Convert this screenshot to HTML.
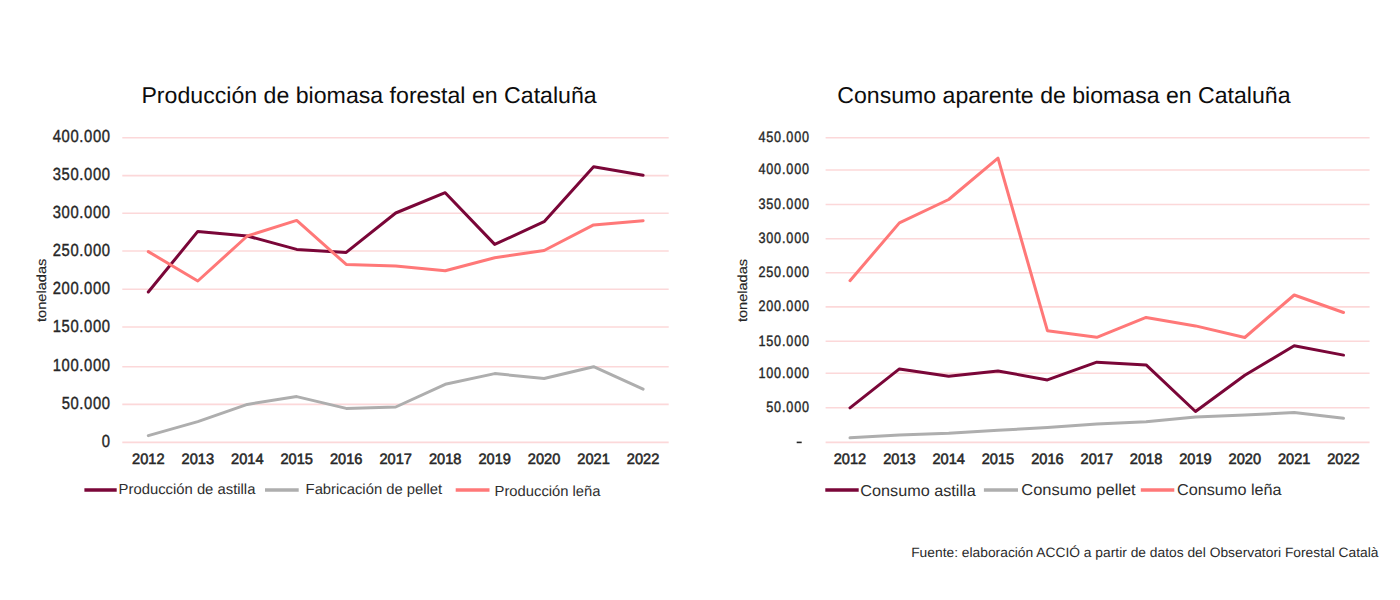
<!DOCTYPE html><html><head><meta charset="utf-8"><style>
html,body{margin:0;padding:0;background:#fff;width:1400px;height:600px;overflow:hidden}
svg{position:absolute;left:0;top:0;font-family:"Liberation Sans",sans-serif;text-rendering:geometricPrecision}
</style></head><body>
<svg width="1400" height="600" viewBox="0 0 1400 600">
<g transform="translate(0 102.8) scale(1 1.0) translate(0 -102.8)"><text x="141.4" y="102.8" font-size="22.8" fill="#0d0d0d" textLength="455.3" lengthAdjust="spacingAndGlyphs">Producción de biomasa forestal en Cataluña</text></g>
<g transform="translate(0 102.8) scale(1 1.0) translate(0 -102.8)"><text x="837.3" y="102.8" font-size="22.8" fill="#0d0d0d" textLength="453.2" lengthAdjust="spacingAndGlyphs">Consumo aparente de biomasa en Cataluña</text></g>
<line x1="122.3" x2="668.7" y1="137.7" y2="137.7" stroke="#fcd8d9" stroke-width="1.6"/>
<line x1="122.3" x2="668.7" y1="175.6" y2="175.6" stroke="#fcd8d9" stroke-width="1.6"/>
<line x1="122.3" x2="668.7" y1="213.3" y2="213.3" stroke="#fcd8d9" stroke-width="1.6"/>
<line x1="122.3" x2="668.7" y1="251.0" y2="251.0" stroke="#fcd8d9" stroke-width="1.6"/>
<line x1="122.3" x2="668.7" y1="289.3" y2="289.3" stroke="#fcd8d9" stroke-width="1.6"/>
<line x1="122.3" x2="668.7" y1="327.0" y2="327.0" stroke="#fcd8d9" stroke-width="1.6"/>
<line x1="122.3" x2="668.7" y1="366.7" y2="366.7" stroke="#fcd8d9" stroke-width="1.6"/>
<line x1="122.3" x2="668.7" y1="404.4" y2="404.4" stroke="#fcd8d9" stroke-width="1.6"/>
<line x1="122.3" x2="668.7" y1="442.4" y2="442.4" stroke="#fcd8d9" stroke-width="1.6"/>
<text x="131.70" y="142.30" font-size="17.6" fill="#262626" stroke="#262626" stroke-width="0.4" text-anchor="end" letter-spacing="0.75" transform="scale(0.84 1)">400.000</text>
<text x="131.70" y="180.20" font-size="17.6" fill="#262626" stroke="#262626" stroke-width="0.4" text-anchor="end" letter-spacing="0.75" transform="scale(0.84 1)">350.000</text>
<text x="131.70" y="217.90" font-size="17.6" fill="#262626" stroke="#262626" stroke-width="0.4" text-anchor="end" letter-spacing="0.75" transform="scale(0.84 1)">300.000</text>
<text x="131.70" y="255.60" font-size="17.6" fill="#262626" stroke="#262626" stroke-width="0.4" text-anchor="end" letter-spacing="0.75" transform="scale(0.84 1)">250.000</text>
<text x="131.70" y="293.90" font-size="17.6" fill="#262626" stroke="#262626" stroke-width="0.4" text-anchor="end" letter-spacing="0.75" transform="scale(0.84 1)">200.000</text>
<text x="131.70" y="331.60" font-size="17.6" fill="#262626" stroke="#262626" stroke-width="0.4" text-anchor="end" letter-spacing="0.75" transform="scale(0.84 1)">150.000</text>
<text x="131.70" y="371.30" font-size="17.6" fill="#262626" stroke="#262626" stroke-width="0.4" text-anchor="end" letter-spacing="0.75" transform="scale(0.84 1)">100.000</text>
<text x="131.70" y="409.00" font-size="17.6" fill="#262626" stroke="#262626" stroke-width="0.4" text-anchor="end" letter-spacing="0.75" transform="scale(0.84 1)">50.000</text>
<text x="131.70" y="447.00" font-size="17.6" fill="#262626" stroke="#262626" stroke-width="0.4" text-anchor="end" letter-spacing="0.75" transform="scale(0.84 1)">0</text>
<line x1="825.6" x2="1369.6" y1="137.7" y2="137.7" stroke="#fcd8d9" stroke-width="1.6"/>
<line x1="825.6" x2="1369.6" y1="170.0" y2="170.0" stroke="#fcd8d9" stroke-width="1.6"/>
<line x1="825.6" x2="1369.6" y1="204.5" y2="204.5" stroke="#fcd8d9" stroke-width="1.6"/>
<line x1="825.6" x2="1369.6" y1="238.7" y2="238.7" stroke="#fcd8d9" stroke-width="1.6"/>
<line x1="825.6" x2="1369.6" y1="272.7" y2="272.7" stroke="#fcd8d9" stroke-width="1.6"/>
<line x1="825.6" x2="1369.6" y1="306.9" y2="306.9" stroke="#fcd8d9" stroke-width="1.6"/>
<line x1="825.6" x2="1369.6" y1="341.3" y2="341.3" stroke="#fcd8d9" stroke-width="1.6"/>
<line x1="825.6" x2="1369.6" y1="373.3" y2="373.3" stroke="#fcd8d9" stroke-width="1.6"/>
<line x1="825.6" x2="1369.6" y1="407.8" y2="407.8" stroke="#fcd8d9" stroke-width="1.6"/>
<line x1="825.6" x2="1369.6" y1="442.4" y2="442.4" stroke="#fcd8d9" stroke-width="1.6"/>
<text x="964.10" y="141.97" font-size="15.0" fill="#262626" stroke="#262626" stroke-width="0.4" text-anchor="end" letter-spacing="1.0" transform="scale(0.84 1)">450.000</text>
<text x="964.10" y="174.27" font-size="15.0" fill="#262626" stroke="#262626" stroke-width="0.4" text-anchor="end" letter-spacing="1.0" transform="scale(0.84 1)">400.000</text>
<text x="964.10" y="208.77" font-size="15.0" fill="#262626" stroke="#262626" stroke-width="0.4" text-anchor="end" letter-spacing="1.0" transform="scale(0.84 1)">350.000</text>
<text x="964.10" y="242.97" font-size="15.0" fill="#262626" stroke="#262626" stroke-width="0.4" text-anchor="end" letter-spacing="1.0" transform="scale(0.84 1)">300.000</text>
<text x="964.10" y="276.97" font-size="15.0" fill="#262626" stroke="#262626" stroke-width="0.4" text-anchor="end" letter-spacing="1.0" transform="scale(0.84 1)">250.000</text>
<text x="964.10" y="311.17" font-size="15.0" fill="#262626" stroke="#262626" stroke-width="0.4" text-anchor="end" letter-spacing="1.0" transform="scale(0.84 1)">200.000</text>
<text x="964.10" y="345.57" font-size="15.0" fill="#262626" stroke="#262626" stroke-width="0.4" text-anchor="end" letter-spacing="1.0" transform="scale(0.84 1)">150.000</text>
<text x="964.10" y="377.57" font-size="15.0" fill="#262626" stroke="#262626" stroke-width="0.4" text-anchor="end" letter-spacing="1.0" transform="scale(0.84 1)">100.000</text>
<text x="964.10" y="412.07" font-size="15.0" fill="#262626" stroke="#262626" stroke-width="0.4" text-anchor="end" letter-spacing="1.0" transform="scale(0.84 1)">50.000</text>
<rect x="796.7" y="441.6" width="5" height="1.6" fill="#262626"/>
<text x="148.3" y="464.0" font-size="15" fill="#262626" stroke="#262626" stroke-width="0.55" text-anchor="middle" textLength="32.5" lengthAdjust="spacingAndGlyphs">2012</text>
<text x="850.0" y="464.0" font-size="15" fill="#262626" stroke="#262626" stroke-width="0.55" text-anchor="middle" textLength="32.5" lengthAdjust="spacingAndGlyphs">2012</text>
<text x="197.8" y="464.0" font-size="15" fill="#262626" stroke="#262626" stroke-width="0.55" text-anchor="middle" textLength="32.5" lengthAdjust="spacingAndGlyphs">2013</text>
<text x="899.4" y="464.0" font-size="15" fill="#262626" stroke="#262626" stroke-width="0.55" text-anchor="middle" textLength="32.5" lengthAdjust="spacingAndGlyphs">2013</text>
<text x="247.3" y="464.0" font-size="15" fill="#262626" stroke="#262626" stroke-width="0.55" text-anchor="middle" textLength="32.5" lengthAdjust="spacingAndGlyphs">2014</text>
<text x="948.7" y="464.0" font-size="15" fill="#262626" stroke="#262626" stroke-width="0.55" text-anchor="middle" textLength="32.5" lengthAdjust="spacingAndGlyphs">2014</text>
<text x="296.7" y="464.0" font-size="15" fill="#262626" stroke="#262626" stroke-width="0.55" text-anchor="middle" textLength="32.5" lengthAdjust="spacingAndGlyphs">2015</text>
<text x="998.0" y="464.0" font-size="15" fill="#262626" stroke="#262626" stroke-width="0.55" text-anchor="middle" textLength="32.5" lengthAdjust="spacingAndGlyphs">2015</text>
<text x="346.2" y="464.0" font-size="15" fill="#262626" stroke="#262626" stroke-width="0.55" text-anchor="middle" textLength="32.5" lengthAdjust="spacingAndGlyphs">2016</text>
<text x="1047.4" y="464.0" font-size="15" fill="#262626" stroke="#262626" stroke-width="0.55" text-anchor="middle" textLength="32.5" lengthAdjust="spacingAndGlyphs">2016</text>
<text x="395.7" y="464.0" font-size="15" fill="#262626" stroke="#262626" stroke-width="0.55" text-anchor="middle" textLength="32.5" lengthAdjust="spacingAndGlyphs">2017</text>
<text x="1096.8" y="464.0" font-size="15" fill="#262626" stroke="#262626" stroke-width="0.55" text-anchor="middle" textLength="32.5" lengthAdjust="spacingAndGlyphs">2017</text>
<text x="445.2" y="464.0" font-size="15" fill="#262626" stroke="#262626" stroke-width="0.55" text-anchor="middle" textLength="32.5" lengthAdjust="spacingAndGlyphs">2018</text>
<text x="1146.1" y="464.0" font-size="15" fill="#262626" stroke="#262626" stroke-width="0.55" text-anchor="middle" textLength="32.5" lengthAdjust="spacingAndGlyphs">2018</text>
<text x="494.7" y="464.0" font-size="15" fill="#262626" stroke="#262626" stroke-width="0.55" text-anchor="middle" textLength="32.5" lengthAdjust="spacingAndGlyphs">2019</text>
<text x="1195.5" y="464.0" font-size="15" fill="#262626" stroke="#262626" stroke-width="0.55" text-anchor="middle" textLength="32.5" lengthAdjust="spacingAndGlyphs">2019</text>
<text x="544.1" y="464.0" font-size="15" fill="#262626" stroke="#262626" stroke-width="0.55" text-anchor="middle" textLength="32.5" lengthAdjust="spacingAndGlyphs">2020</text>
<text x="1244.8" y="464.0" font-size="15" fill="#262626" stroke="#262626" stroke-width="0.55" text-anchor="middle" textLength="32.5" lengthAdjust="spacingAndGlyphs">2020</text>
<text x="593.6" y="464.0" font-size="15" fill="#262626" stroke="#262626" stroke-width="0.55" text-anchor="middle" textLength="32.5" lengthAdjust="spacingAndGlyphs">2021</text>
<text x="1294.2" y="464.0" font-size="15" fill="#262626" stroke="#262626" stroke-width="0.55" text-anchor="middle" textLength="32.5" lengthAdjust="spacingAndGlyphs">2021</text>
<text x="643.1" y="464.0" font-size="15" fill="#262626" stroke="#262626" stroke-width="0.55" text-anchor="middle" textLength="32.5" lengthAdjust="spacingAndGlyphs">2022</text>
<text x="1343.5" y="464.0" font-size="15" fill="#262626" stroke="#262626" stroke-width="0.55" text-anchor="middle" textLength="32.5" lengthAdjust="spacingAndGlyphs">2022</text>
<polyline points="148.3,292.0 197.8,231.4 247.3,236.0 296.7,249.4 346.2,252.4 395.7,213.0 445.2,192.7 494.7,244.4 544.1,221.7 593.6,166.8 643.1,175.2" fill="none" stroke="#7a0638" stroke-width="3" stroke-linejoin="round" stroke-linecap="round"/>
<polyline points="148.3,435.6 197.8,421.6 247.3,404.4 296.7,396.6 346.2,408.4 395.7,407.0 445.2,384.3 494.7,373.6 544.1,378.5 593.6,366.7 643.1,389.2" fill="none" stroke="#aeaeae" stroke-width="3" stroke-linejoin="round" stroke-linecap="round"/>
<polyline points="148.3,251.6 197.8,281.0 247.3,236.0 296.7,220.4 346.2,264.4 395.7,265.9 445.2,270.8 494.7,257.7 544.1,250.5 593.6,224.9 643.1,220.7" fill="none" stroke="#ff7878" stroke-width="3" stroke-linejoin="round" stroke-linecap="round"/>
<polyline points="850.0,407.9 899.4,368.9 948.7,376.3 998.0,370.9 1047.4,379.9 1096.8,362.2 1146.1,364.9 1195.5,411.5 1244.8,375.2 1294.2,345.8 1343.5,355.1" fill="none" stroke="#7a0638" stroke-width="3" stroke-linejoin="round" stroke-linecap="round"/>
<polyline points="850.0,437.8 899.4,435.0 948.7,433.2 998.0,430.3 1047.4,427.6 1096.8,424.0 1146.1,421.8 1195.5,417.0 1244.8,415.0 1294.2,412.6 1343.5,418.3" fill="none" stroke="#aeaeae" stroke-width="3" stroke-linejoin="round" stroke-linecap="round"/>
<polyline points="850.0,280.7 899.4,222.9 948.7,199.5 998.0,158.2 1047.4,330.7 1096.8,337.3 1146.1,317.4 1195.5,325.9 1244.8,337.5 1294.2,295.0 1343.5,312.5" fill="none" stroke="#ff7878" stroke-width="3" stroke-linejoin="round" stroke-linecap="round"/>
<text transform="translate(45.6 322) rotate(-90)" font-size="13.2" fill="#262626" stroke="#262626" stroke-width="0.15" textLength="63.3" lengthAdjust="spacingAndGlyphs">toneladas</text>
<text transform="translate(747.1 322) rotate(-90)" font-size="13.2" fill="#262626" stroke="#262626" stroke-width="0.15" textLength="63" lengthAdjust="spacingAndGlyphs">toneladas</text>
<line x1="84.4" x2="116.7" y1="490" y2="490" stroke="#7a0638" stroke-width="3.4"/>
<text x="118.6" y="493.7" font-size="14.6" fill="#2e2e2e" textLength="136.8" lengthAdjust="spacingAndGlyphs">Producción de astilla</text>
<line x1="265" x2="298.7" y1="490" y2="490" stroke="#aeaeae" stroke-width="3.4"/>
<text x="305.6" y="493.8" font-size="14.6" fill="#2e2e2e" textLength="136.6" lengthAdjust="spacingAndGlyphs">Fabricación de pellet</text>
<line x1="455.7" x2="489.5" y1="490" y2="490" stroke="#ff7878" stroke-width="3.4"/>
<text x="494.6" y="495.6" font-size="14.6" fill="#2e2e2e" textLength="105.9" lengthAdjust="spacingAndGlyphs">Producción leña</text>
<line x1="825.3" x2="858.7" y1="490" y2="490" stroke="#7a0638" stroke-width="3.4"/>
<text x="860.3" y="495.5" font-size="15.8" fill="#2e2e2e" textLength="115.4" lengthAdjust="spacingAndGlyphs">Consumo astilla</text>
<line x1="983.9" x2="1018" y1="490" y2="490" stroke="#aeaeae" stroke-width="3.4"/>
<text x="1021.3" y="494.5" font-size="15.8" fill="#2e2e2e" textLength="114.4" lengthAdjust="spacingAndGlyphs">Consumo pellet</text>
<line x1="1140.8" x2="1174.3" y1="490" y2="490" stroke="#ff7878" stroke-width="3.4"/>
<text x="1177.0" y="495.3" font-size="15.8" fill="#2e2e2e" textLength="104.6" lengthAdjust="spacingAndGlyphs">Consumo leña</text>
<text x="911.2" y="556.8" font-size="13.5" fill="#2a2a2a" textLength="467.3" lengthAdjust="spacingAndGlyphs">Fuente: elaboración ACCIÓ a partir de datos del Observatori Forestal Català</text>
</svg></body></html>
